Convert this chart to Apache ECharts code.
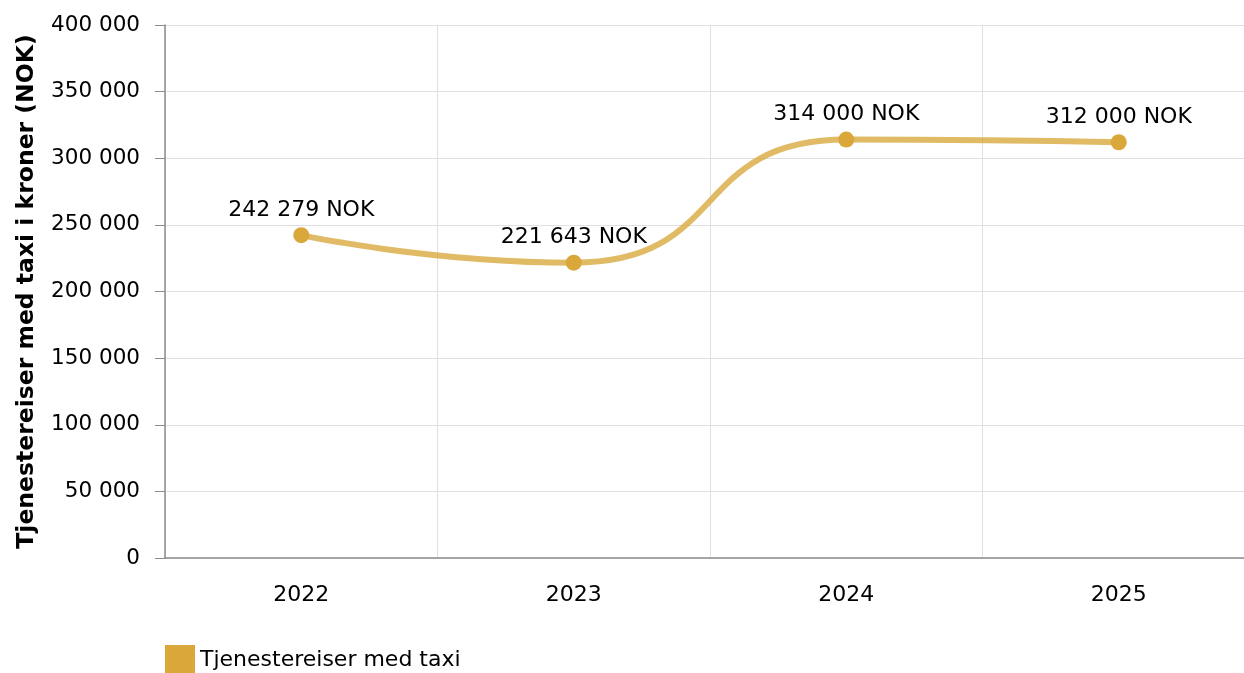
<!DOCTYPE html>
<html>
<head>
<meta charset="utf-8">
<script src="https://cdn.jsdelivr.net/npm/echarts@6/dist/echarts.min.js"></script>
<style>
  html, body { margin: 0; padding: 0; background: #fff; }
  #chart { width: 1244px; height: 673px; }
</style>
</head>
<body>
<div id="chart"></div>
<script>
// data
var years = ["2022", "2023", "2024", "2025"];
var taxiKroner = [242279, 221643, 314000, 312000];
var seriesName = "Tjenestereiser med taxi";

function tusen(v) {
  return String(v).replace(/\B(?=(\d{3})+(?!\d))/g, " ");
}

document.addEventListener("DOMContentLoaded", () => {
  var chart = echarts.init(document.querySelector("#chart"));
  var font = "DejaVu Sans";

  chart.setOption({
    animation: false,
    textStyle: { fontFamily: font },
    // plot runs a bit past the right edge of the window
    grid: { left: 165, width: 1090, top: 25, height: 533, outerBoundsMode: "none" },
    legend: {
      left: 160,
      top: 640,
      itemWidth: 30,
      itemHeight: 30,
      icon: "rect",
      textStyle: { fontFamily: font, fontSize: 22, color: "#000" },
      data: [seriesName]
    },
    xAxis: {
      type: "category",
      data: years,
      boundaryGap: true,
      axisLine: { lineStyle: { color: "#8c8c8c", width: 1.5 } },
      axisTick: { alignWithLabel: true, length: 8, lineStyle: { color: "#8c8c8c" } },
      axisLabel: { margin: 26, fontSize: 22, color: "#000", fontFamily: font },
      splitLine: { show: true, lineStyle: { color: "#e0e0e0" } }
    },
    yAxis: {
      type: "value",
      min: 0,
      max: 400000,
      interval: 50000,
      name: "Tjenestereiser med taxi i kroner (NOK)",
      nameLocation: "middle",
      nameGap: 126,
      nameTextStyle: { fontFamily: font, fontSize: 23.5, fontWeight: "bold", color: "#000" },
      axisLine: { show: true, lineStyle: { color: "#8c8c8c", width: 1.5 } },
      axisTick: { show: true, length: 10, lineStyle: { color: "#8c8c8c" } },
      axisLabel: {
        margin: 25,
        fontSize: 21.5,
        color: "#000",
        fontFamily: font,
        formatter: function (v) { return tusen(v); }
      },
      splitLine: { show: true, lineStyle: { color: "#e0e0e0" } }
    },
    series: [
      {
        name: seriesName,
        type: "line",
        data: taxiKroner,
        smooth: 0.55,
        symbol: "circle",
        symbolSize: 16,
        itemStyle: { color: "#d9a73a" },
        lineStyle: { color: "rgba(217, 167, 58, 0.78)", width: 6 },
        label: {
          show: true,
          position: "top",
          distance: 6,
          fontSize: 22,
          color: "#000",
          fontFamily: font,
          formatter: function (p) { return tusen(p.value) + " NOK"; }
        }
      }
    ]
  });
});
</script>
</body>
</html>
